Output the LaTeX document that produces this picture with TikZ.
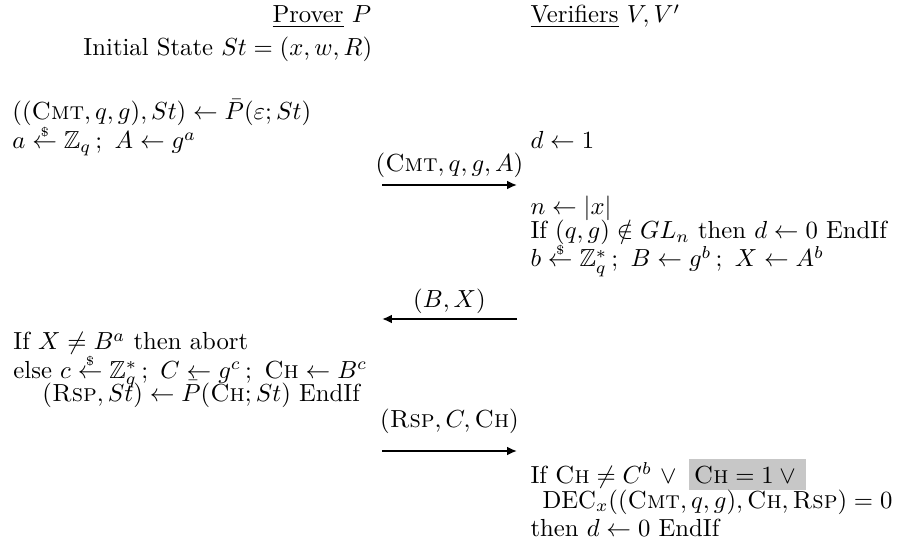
\documentclass[tikz,border=0pt]{standalone}
\usepackage{amsmath,amssymb}
\usetikzlibrary{arrows.meta,positioning}
\newcommand{\Cmt}{\textsc{Cmt}}
\newcommand{\Ch}{\textsc{Ch}}
\newcommand{\Rsp}{\textsc{Rsp}}
\newcommand{\rnd}{\mathrel{\overset{\raisebox{-1.4pt}{$\scriptscriptstyle\$$}}{\leftarrow}}}
\newcommand{\Pbar}{\bar{P}}

\begin{document}
\begin{tikzpicture}[x=0.405pt,y=-0.405pt,
  txt/.style={anchor=base west,inner sep=0pt},
  msg/.style={thick,-{Latex[length=4pt,width=3.6pt]}},
  hl/.style={anchor=base west,fill=black!22,inner xsep=2pt,inner ysep=3pt,text height=6.8pt,text depth=0pt}]
  \useasboundingbox (0,0) rectangle (902,552);
  \node[txt] (prv) at (272,23) {\underline{Prover} $P$};
  \node[txt] (ver) at (530,23) {\underline{Verifiers} $V,V'$};
  \node[txt] (init) at (83,56) {Initial State $St=(x,w,R)$};
  % prover, first move
  \node[txt] (p1) at (12,120) {$((\Cmt,q,g),St)\leftarrow\Pbar(\varepsilon;St)$};
  \node[txt] (p2) at (12,149) {$a\rnd\mathbb{Z}_q\,;\ A\leftarrow g^a$};
  \node[txt] (v1) at (530,149) {$d\leftarrow1$};
  \coordinate (m1w) at (382,185);
  \coordinate (m1e) at (517,185);
  \draw[msg] (m1w) -- node[above=-0.6pt] (m1) {$(\Cmt,q,g,A)$} (m1e);
  % verifier, challenge
  \node[txt] (v2) at (530,215) {$n\leftarrow|x|$};
  \node[txt] (v3) at (530,239) {If $(q,g)\notin GL_n$ then $d\leftarrow0$ EndIf};
  \node[txt] (v4) at (530,267) {$b\rnd\mathbb{Z}_q^*\,;\ B\leftarrow g^b\,;\ X\leftarrow A^b$};
  \coordinate (m2w) at (382,319);
  \coordinate (m2e) at (517,319);
  \draw[msg] (m2e) -- node[above=-1.6pt] (m2) {$(B,X)$} (m2w);
  % prover, response
  \node[txt] (p3) at (13,350) {If $X\neq B^a$ then abort};
  \node[txt] (p4) at (13,378) {else $c\rnd\mathbb{Z}_q^*\,;\ C\leftarrow g^c\,;\ \Ch\leftarrow B^c$};
  \node[txt] (p5) at (42,401) {$(\Rsp,St)\leftarrow\Pbar(\Ch;St)$ EndIf};
  \coordinate (m3w) at (382,451);
  \coordinate (m3e) at (517,451);
  \draw[msg] (m3w) -- node[above=3.2pt] (m3) {$(\Rsp,C,\Ch)$} (m3e);
  % verifier, decision
  \node[txt] (v5) at (530,483) {If $\Ch\neq C^b\ \vee$};
  \node[hl] (v5h) at ([xshift=4.6pt]v5.base east) {$\Ch=1\vee{}$};
  \node[txt] (v6) at (542,508) {$\mathrm{DEC}_x((\Cmt,q,g),\Ch,\Rsp)=0$};
  \node[txt] (v7) at (530,536) {then $d\leftarrow0$ EndIf};
\end{tikzpicture}
\end{document}
